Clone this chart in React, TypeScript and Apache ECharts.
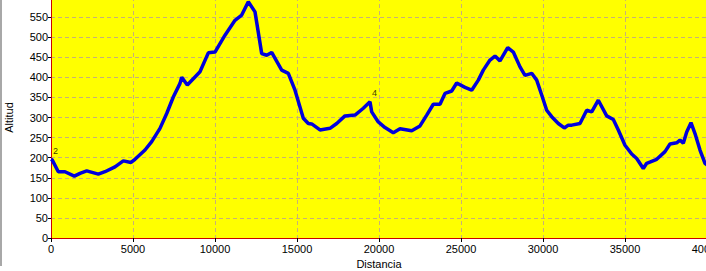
import React, { useEffect, useRef } from "react";
import * as echarts from "echarts";

const distances: number[] = [
  0, 79, 445, 854, 1421, 1768, 2177, 2884, 3293, 3902, 4409, 4878, 5122, 5732, 6140, 6646, 7055, 7457, 7866,
  7970, 8311, 8780, 9085, 9592, 10000, 10610, 11220, 11628, 12031, 12439, 12848, 13152, 13457, 14067, 14470, 14878, 15384, 15689,
  15896, 16402, 17012, 17421, 17927, 18537, 19043, 19451, 19555, 19957, 20366, 20872, 21280, 21994, 22500, 22909, 23311, 23720,
  24024, 24433, 24738, 25244, 25652, 26055, 26360, 26768, 27073, 27378, 27848, 28189, 28598, 28902, 29311, 29616, 29921, 30226, 30531, 30933, 31299, 31543,
  31750, 32256, 32665, 32970, 33372, 33884, 34287, 34592, 35000, 35409, 35714, 36116, 36323, 36933, 37439, 37744, 38152, 38354, 38555, 38762, 39024, 39268, 39573, 39878, 40000,
];

const altitudes: number[] = [
  196, 194, 165, 165, 154, 161, 167, 159, 165, 177, 192, 188, 196, 219, 240, 273, 310, 351, 385,
  400, 381, 401, 414, 461, 463, 505, 542, 555, 588, 563, 459, 455, 462, 418, 410, 368, 298, 285,
  284, 269, 273, 285, 304, 306, 323, 339, 314, 289, 275, 262, 272, 267, 279, 306, 333, 333,
  360, 366, 386, 375, 368, 393, 418, 443, 453, 441, 474, 463, 426, 405, 410, 393, 356, 318, 302, 285, 274, 281,
  281, 285, 318, 314, 343, 304, 295, 269, 231, 209, 198, 173, 186, 196, 215, 234, 237, 244, 236, 264, 287, 260, 219, 186, 182,
];

const markerNames: string[] = ["2", "4"];
const markerDistances: number[] = [0, 19451];
const markerAltitudes: number[] = [196, 339];

const xTicks = { min: 0, max: 40000, interval: 5000 };
const yTicks = { min: 0, max: 600, interval: 50 };

export default function App() {
  const ref = useRef<HTMLDivElement>(null);
  useEffect(() => {
    document.body.style.margin = "0";
    const chart = echarts.init(ref.current!, undefined, { renderer: "svg" });
    const font = "'Liberation Sans', Arial, sans-serif";
    chart.setOption({
      animation: false,
      backgroundColor: "#ffffff",
      grid: {
        left: 51,
        top: -3,
        width: 656,
        height: 241,
        outerBoundsMode: "none",
        containLabel: false,
        show: true,
        backgroundColor: "#FFFF00",
        borderWidth: 0,
      },
      graphic: [
        { type: "rect", left: 0, top: 0, shape: { width: 2, height: 266 }, style: { fill: "#a8a8a8" }, z: 100 },
      ],
      xAxis: {
        type: "value",
        min: xTicks.min,
        max: xTicks.max,
        interval: xTicks.interval,
        name: "Distancia",
        nameLocation: "middle",
        nameGap: 18,
        nameTextStyle: { color: "#000", fontSize: 11, fontFamily: font },
        axisLine: { show: true, onZero: false, lineStyle: { color: "#CC0000", width: 1 } },
        axisTick: { show: true, length: 4, lineStyle: { color: "#000" } },
        axisLabel: { color: "#000", fontSize: 11, fontFamily: font, margin: 5, formatter: (v: number) => String(v) },
        splitLine: { show: true, lineStyle: { color: "#C8B078", type: [4, 3], width: 1 } },
      },
      yAxis: {
        type: "value",
        min: yTicks.min,
        max: yTicks.max,
        interval: yTicks.interval,
        name: "Altitud",
        nameLocation: "middle",
        nameGap: 37,
        nameRotate: 90,
        nameTextStyle: { color: "#000", fontSize: 11, fontFamily: font },
        axisLine: { show: true, onZero: false, lineStyle: { color: "#CC0000", width: 1 } },
        axisTick: { show: true, length: 3, lineStyle: { color: "#000" } },
        axisLabel: { color: "#000", fontSize: 11, fontFamily: font, margin: 3, showMaxLabel: false, formatter: (v: number) => String(v) },
        splitLine: { show: true, lineStyle: { color: "#C8B078", type: [4, 3], width: 1 } },
      },
      series: [
        {
          type: "line",
          data: distances.map((d, i) => [d, altitudes[i]]),
          showSymbol: false,
          symbol: "none",
          lineStyle: { color: "#0000DD", width: 3.5 },
          clip: true,
          z: 3,
        },
        {
          type: "scatter",
          data: markerDistances.map((d, i) => ({ value: [d, markerAltitudes[i]], name: markerNames[i] })),
          symbolSize: 0,
          label: {
            show: true,
            formatter: (p: any) => p.name,
            position: [2, -13],
            color: "#000",
            fontSize: 9,
            fontFamily: font,
          },
          z: 4,
        },
      ],
    });
    return () => chart.dispose();
  }, []);
  return <div ref={ref} style={{ width: 706, height: 271 }} />;
}
